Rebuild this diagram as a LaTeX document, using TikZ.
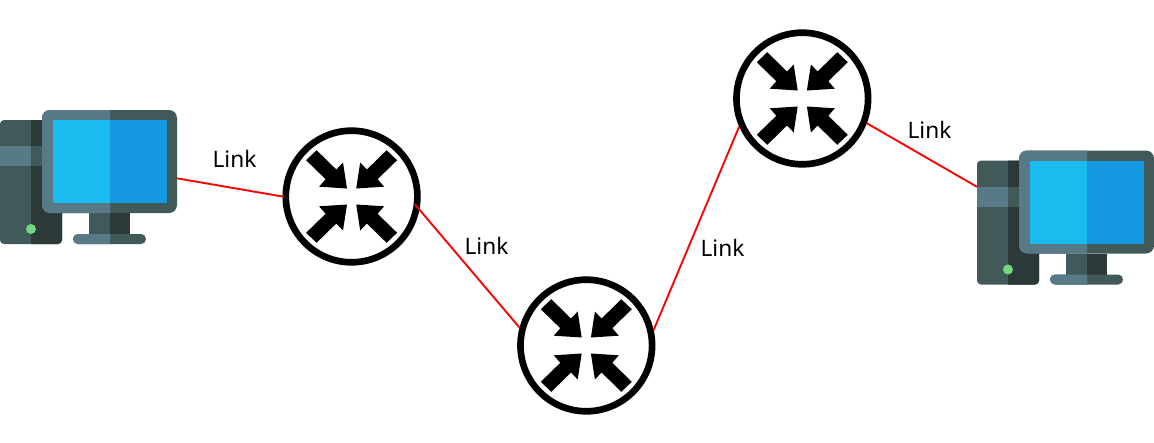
\documentclass[tikz,border=0pt]{standalone}
\usepackage{fontspec}
\setmainfont{Noto Sans}
\definecolor{pcmid}{HTML}{42595A}
\definecolor{pcdark}{HTML}{2B3938}
\definecolor{pclight}{HTML}{587A86}
\definecolor{scrL}{HTML}{1ABCF0}
\definecolor{scrR}{HTML}{1699E3}
\definecolor{led}{HTML}{74D67E}
\tikzset{
  routernode/.style={circle,draw=black,fill=white,line width=5pt,minimum size=98.7pt,inner sep=0pt,outer sep=2.5pt},
  linkline/.style={draw=red,line width=1.4pt},
  linktext/.style={font=\fontsize{17pt}{20pt}\selectfont,text=black,inner sep=0pt},
  towerbox/.style={rectangle,fill=pcmid,rounded corners=3pt,minimum width=46.5pt,minimum height=93pt,inner sep=0pt,outer sep=0pt},
  monitorbox/.style={rectangle,fill=pcmid,rounded corners=6pt,minimum width=101.25pt,minimum height=77.25pt,inner sep=0pt,outer sep=0pt}
}
% one router glyph: four arrows pointing at the centre
\newcommand{\arrowglyph}[3]{%
  \begin{scope}[shift={(#1)},xscale=#2,yscale=#3]
    \fill[black] (-35,-46.3) -- (-15.3,-27) -- (-8.6,-34) -- (-4.6,-8) -- (-32.5,-9.8) -- (-26,-17.3) -- (-45.5,-36.3) -- cycle;
  \end{scope}}
\newcommand{\routerat}[2]{%
  \node[routernode] (#1) at (#2) {};
  \arrowglyph{#2}{1}{1}\arrowglyph{#2}{-1}{1}\arrowglyph{#2}{1}{-1}\arrowglyph{#2}{-1}{-1}}
% one computer
\newcommand{\pcat}[3]{%
  \begin{scope}[shift={(#2,#3)}]
    \node[towerbox] (#1t) at (31,182) {};
    \begin{scope}
      \clip (31,120) rectangle (62,244);
      \fill[pcdark,rounded corners=3pt] (0,120) rectangle (62,244);
    \end{scope}
    \fill[pclight] (0,146) rectangle (31,166);
    \fill[pcmid] (31,146) rectangle (42,166);
    \fill[led] (31,229) circle[radius=5];
    \fill[pcmid] (89,213) rectangle (110,234);
    \fill[pcdark] (110,213) rectangle (130,234);
    \fill[pcmid,rounded corners=3.7pt] (73,234) rectangle (146,244);
    \begin{scope}
      \clip (73,234) rectangle (110,244);
      \fill[pclight,rounded corners=3.7pt] (73,234) rectangle (146,244);
    \end{scope}
    \node[monitorbox] (#1m) at (109.5,161.5) {};
    \begin{scope}
      \clip (42,110) rectangle (110,213);
      \fill[pclight,rounded corners=6pt] (42,110) rectangle (177,213);
    \end{scope}
    \fill[scrL] (52.5,120) rectangle (110,203);
    \fill[scrR] (110,120) rectangle (167,203);
  \end{scope}}
\begin{document}
\begin{tikzpicture}[x=0.75pt,y=-0.75pt]
  \useasboundingbox (0,0) rectangle (1154,443);
  \fill[white] (0,0) rectangle (1154,443);
  \pcat{pca}{0}{0}
  \pcat{pcb}{977}{40.5}
  \routerat{ra}{351.6,196.5}
  \routerat{rb}{586.3,345.5}
  \routerat{rc}{802.3,98.5}
  \draw[linkline,shorten >=-1pt] (pcam.-14) -- (ra.180);
  \draw[linkline,shorten <=-5.3pt] (ra.-11) -- (rb.165);
  \draw[linkline] (rb.13) -- (rc.-156);
  \draw[linkline] (rc.-21) -- (pcbt.131);
  \node[linktext] (la) at (234.5,159) {Link};
  \node[linktext] (lb) at (486.5,246) {Link};
  \node[linktext] (lc) at (722.5,248) {Link};
  \node[linktext] (ld) at (929.5,130) {Link};
\end{tikzpicture}
\end{document}
